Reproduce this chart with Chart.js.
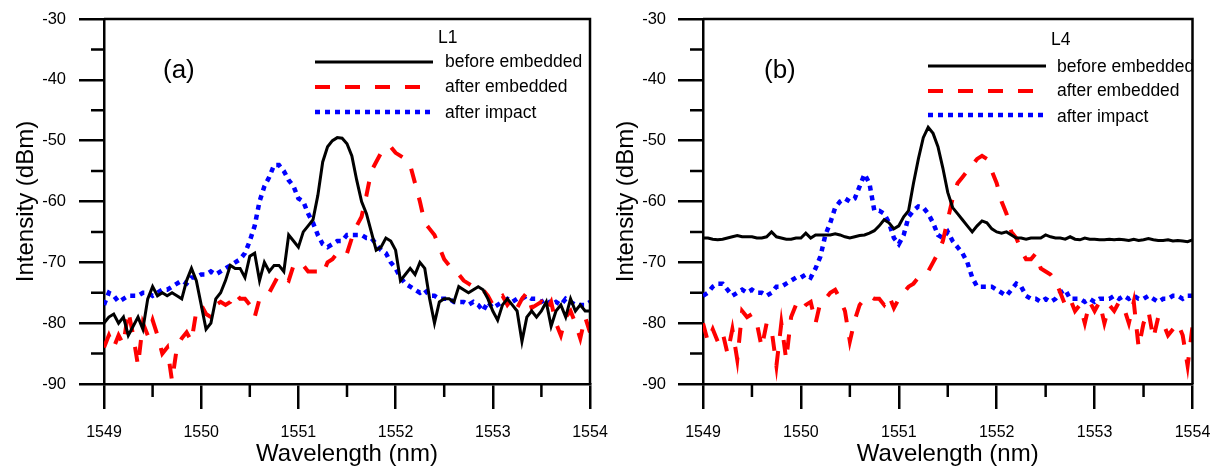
<!DOCTYPE html>
<html>
<head>
<meta charset="utf-8">
<script src="https://cdn.jsdelivr.net/npm/chart.js@4.4.1/dist/chart.umd.min.js"></script>
<style>
body { margin: 0; background: #fff; }
#wrap { position: relative; width: 1220px; height: 466px; }
canvas { position: absolute; top: 0; }
</style>
</head>
<body>
<div id="wrap">
<canvas id="panelA" width="610" height="466" style="left:0"></canvas>
<canvas id="panelB" width="610" height="466" style="left:610px"></canvas>
</div>
<script>
// wavelength grid shared by both panels (nm)
const wavelength = [
    1549.00, 1549.05, 1549.10, 1549.15, 1549.20, 1549.25, 1549.30, 1549.35, 1549.40, 1549.45,
    1549.50, 1549.55, 1549.60, 1549.65, 1549.70, 1549.75, 1549.80, 1549.85, 1549.90, 1549.95,
    1550.00, 1550.05, 1550.10, 1550.15, 1550.20, 1550.25, 1550.30, 1550.35, 1550.40, 1550.45,
    1550.50, 1550.55, 1550.60, 1550.65, 1550.70, 1550.75, 1550.80, 1550.85, 1550.90, 1550.95,
    1551.00, 1551.05, 1551.10, 1551.15, 1551.20, 1551.25, 1551.30, 1551.35, 1551.40, 1551.45,
    1551.50, 1551.55, 1551.60, 1551.65, 1551.70, 1551.75, 1551.80, 1551.85, 1551.90, 1551.95,
    1552.00, 1552.05, 1552.10, 1552.15, 1552.20, 1552.25, 1552.30, 1552.35, 1552.40, 1552.45,
    1552.50, 1552.55, 1552.60, 1552.65, 1552.70, 1552.75, 1552.80, 1552.85, 1552.90, 1552.95,
    1553.00, 1553.05, 1553.10, 1553.15, 1553.20, 1553.25, 1553.30, 1553.35, 1553.40, 1553.45,
    1553.50, 1553.55, 1553.60, 1553.65, 1553.70, 1553.75, 1553.80, 1553.85, 1553.90, 1553.95,
    1554.00
]

const seriesNames = ['before embedded', 'after embedded', 'after impact']

// panel (a), L1 (dBm)
const aBefore = [
    -80, -79, -78.5, -80, -79, -82, -80.5, -79, -81, -76,
    -74, -75.5, -75, -75.5, -75, -75.5, -76, -73, -71, -73,
    -77, -81, -80, -76, -75, -73, -70.5, -71, -71, -72.5,
    -69, -68.5, -73, -70, -71.5, -70.5, -70.5, -71.5, -65.5, -66.5,
    -67.5, -65, -64, -63, -59, -53.5, -51, -50, -49.5, -49.6,
    -50.5, -52.5, -56.5, -60, -62, -65, -68, -67.5, -66, -66.5,
    -68, -73, -72, -71, -72, -70, -71, -76, -80, -76.5,
    -76, -76, -76.5, -74, -74.5, -75, -74.5, -74, -74.5, -76,
    -78, -79.5, -77, -76, -77, -78, -83, -79, -78, -79,
    -78, -76.5, -80.5, -78, -77, -79, -76, -78, -77, -78,
    -78
]
const aAfterEmb = [
    -84, -82, -84, -82, -83.5, -78, -82, -87, -80, -82,
    -79.5, -82, -85, -84, -89.5, -84, -82.5, -81.5, -83, -78,
    -77, -78.5, -79, -77, -76.5, -77, -76.5, -75, -76, -76,
    -77, -79, -76, -75.5, -75, -73.5, -72, -72.5, -73, -70.5,
    -70, -70.5, -71.5, -71.5, -71.5, -72, -70, -69.5, -68.5, -68,
    -68.5, -66, -64, -62.5, -59, -55, -53.5, -52, -51, -51,
    -52, -52.5, -53, -54, -57, -60, -63.5, -64.5, -65.5, -67.5,
    -69.5, -70.5, -71.5, -72, -73, -73.5, -74, -74, -74.5, -75.5,
    -77, -76, -75.5, -77, -76, -77.5, -76, -75, -77.5, -77,
    -76.5, -78, -76.5, -80, -82, -79, -78, -80, -82.5, -79,
    -81.5
]
const aAfterImpact = [
    -77, -75, -75.5, -76.5, -76, -75.5, -75.5, -75.5, -75, -75,
    -75.5, -75, -74.5, -74.5, -74, -73.5, -73, -73.5, -72.5, -72.5,
    -72, -72, -71.5, -72, -71.5, -71, -70.5, -70, -69.5, -68.5,
    -66.5, -64, -60, -57.5, -56, -54, -54, -55, -56.5, -57.5,
    -59.5, -60, -62, -63.5, -65.5, -67, -67.5, -67, -66.5, -66.5,
    -65.5, -65.5, -65.5, -65.5, -66, -66, -67, -68, -68.5, -70,
    -71, -72.5, -73.5, -74, -74.5, -75, -74.5, -75.5, -75.5, -76,
    -76, -76, -76.5, -76.5, -76.5, -77, -76.5, -77, -78, -76.5,
    -77.5, -77, -76.5, -76, -76.5, -76, -76, -75.5, -76, -76,
    -76.5, -76, -77, -76.5, -77, -76, -76.5, -77, -77, -77,
    -76.5
]

// panel (b), L4 (dBm)
const bBefore = [
    -66, -66, -66.2, -66.3, -66.2, -66, -65.8, -65.6, -65.8, -65.8,
    -65.8, -66, -66, -65.8, -65, -65.8, -66, -66.2, -66.2, -66,
    -66, -65.2, -66, -65.5, -65.5, -65.5, -65.5, -65.3, -65.5, -65.8,
    -66, -65.8, -65.6, -65.5, -65.2, -64.8, -64, -63, -63.5, -64.5,
    -64, -62.5, -61.5, -57, -53, -49.5, -47.8, -48.8, -51, -54.5,
    -58.5, -61, -62, -63, -64, -65, -64, -63.2, -63.5, -64.5,
    -65, -65.2, -65, -65.5, -66, -66, -66.2, -66, -66, -66,
    -65.5, -65.8, -66, -66, -66.2, -65.8, -66.2, -66.3, -66, -66.2,
    -66.2, -66.3, -66.3, -66.2, -66.3, -66.2, -66.3, -66.4, -66.2, -66.4,
    -66.3, -66.1, -66.3, -66.4, -66.4, -66.3, -66.5, -66.4, -66.5, -66.6,
    -66.3
]
const bAfterEmb = [
    -80, -83, -81, -83, -81.5, -85, -81, -86, -78, -79,
    -78.5, -80, -84, -80, -81, -87, -80, -86, -79, -77,
    -78, -77, -76.5, -80, -76.5, -76, -75, -74.5, -76, -78,
    -83, -79.5, -77, -76, -75.5, -76, -76, -77, -75.5, -77.5,
    -76, -75, -74, -73.5, -72.5, -72, -71.5, -70, -68.5, -66.5,
    -63, -59.5, -57, -56, -55, -54, -53, -52.5, -53, -55,
    -57, -60, -62, -65, -66, -68, -69.5, -69.5, -68.5, -71,
    -71.5, -72, -73, -75, -77, -76, -78, -77, -80, -76.5,
    -78, -76.5, -80, -77, -78, -76.5, -77.5, -80, -76.5, -84,
    -80, -78, -82.5, -79, -80, -82, -81, -80, -82, -87,
    -80.5
]
const bAfterImpact = [
    -75.5, -75, -74, -73.5, -73.5, -74.5, -75.5, -75, -74.5, -75,
    -74.5, -75, -75, -75.5, -75, -74, -74, -73.5, -73, -72.5,
    -72.5, -72, -72.5, -71, -69, -65.5, -63.5, -61, -60, -59.5,
    -60, -59.5, -57.5, -55.5, -57, -61.5, -61.5, -62, -63.5, -66,
    -67, -65.5, -62.5, -61.5, -60.8, -61, -62, -63.5, -65.5, -66,
    -65, -66.5, -67.5, -68.5, -70, -72.5, -74, -74, -74, -74,
    -74.5, -75, -75.5, -74.5, -73.5, -74, -75.5, -76, -76, -76.5,
    -76, -76.5, -76, -75, -74.5, -76, -76, -76, -76.5, -76,
    -76.5, -76, -76, -76, -75.5, -76, -75.5, -76, -75.5, -76,
    -76, -75.5, -76, -76.5, -76, -76, -75.5, -75.5, -76, -75.5,
    -75.5
]

const xMajor = [1549, 1550, 1551, 1552, 1553, 1554]
const xMinor = [1549.5, 1550.5, 1551.5, 1552.5, 1553.5]
const yMinor = [-35, -45, -55, -65, -75, -85]

const FONT = "'Liberation Sans', Arial, sans-serif"
Chart.defaults.font.family = FONT
Chart.defaults.color = '#000'

/**
 * minor ticks, top/right frame, panel tag and the in-plot legend
 */
const panelDeco = {
    id: 'panelDeco',
    afterDraw(chart, args, opts) {
        const ctx = chart.ctx
        const {left, right, top, bottom} = chart.chartArea
        const xs = chart.scales.x
        const ys = chart.scales.y
        ctx.save()

        // legend
        ctx.font = `17.5px ${FONT}`
        ctx.fillStyle = '#000'
        ctx.textBaseline = 'middle'
        ctx.textAlign = 'left'
        ctx.fillText(opts.tag, opts.tagX, opts.tagY)
        chart.data.datasets.forEach((ds, i) => {
            ctx.save()
            ctx.strokeStyle = ds.borderColor
            ctx.lineWidth = ds.borderWidth
            ctx.setLineDash(ds.borderDash || [])
            ctx.lineCap = ds.borderCapStyle || 'butt'
            ctx.beginPath()
            ctx.moveTo(opts.lineX1, opts.rows[i])
            ctx.lineTo(opts.lineX2, opts.rows[i])
            ctx.stroke()
            ctx.restore()
            ctx.fillText(ds.label, opts.textX, opts.textRows[i])
        })

        ctx.font = `26px ${FONT}`
        ctx.fillText(opts.panel, opts.panelX, opts.panelY)

        // frame + minor ticks
        ctx.strokeStyle = '#000'
        ctx.lineWidth = 2.5
        ctx.setLineDash([])
        ctx.beginPath()
        for (const v of xMinor) {
            const px = xs.getPixelForValue(v)
            ctx.moveTo(px, bottom)
            ctx.lineTo(px, bottom + 13)
        }
        for (const v of yMinor) {
            const py = ys.getPixelForValue(v)
            ctx.moveTo(left, py)
            ctx.lineTo(left - 13, py)
        }
        ctx.moveTo(left, top)
        ctx.lineTo(right, top)
        ctx.lineTo(right, bottom)
        ctx.stroke()
        ctx.restore()
    }
}

function makeDatasets(before, afterEmb, afterImpact) {
    const pts = arr => wavelength.map((w, i) => ({x: w, y: arr[i]}))
    return [
        {label: seriesNames[0], data: pts(before), borderColor: '#000', borderWidth: 3},
        {label: seriesNames[1], data: pts(afterEmb), borderColor: '#ff0000', borderWidth: 4, borderDash: [15, 15]},
        {label: seriesNames[2], data: pts(afterImpact), borderColor: '#0000ff', borderWidth: 4.5, borderDash: [5, 5]}
    ]
}

/**
 * @param {HTMLCanvasElement} canvas
 * @param {any[]} datasets
 * @param {any} layout sizes of this panel
 * @param {any} deco legend / tag settings
 */
function displaySpectrum(canvas, datasets, layout, deco) {
    const ctx = canvas.getContext('2d')
    const tickGrid = {
        drawOnChartArea: false,
        drawTicks: true,
        tickLength: 25,
        tickWidth: 2.5,
        tickColor: '#000',
        color: '#000',
        lineWidth: 2.5
    }
    return new Chart(ctx, {
        type: 'line',
        data: {datasets},
        plugins: [panelDeco],
        options: {
            responsive: false,
            animation: false,
            devicePixelRatio: 1,
            layout: {padding: {top: 19, right: layout.right, left: 0, bottom: 0}},
            elements: {
                point: {radius: 0},
                line: {tension: 0, fill: false}
            },
            plugins: {
                legend: {display: false},
                tooltip: {enabled: false},
                panelDeco: deco
            },
            scales: {
                x: {
                    type: 'linear',
                    min: 1549,
                    max: 1554,
                    afterFit: s => {
                        s.height = 82
                        s.paddingLeft = 0
                        s.paddingRight = 0
                    },
                    afterBuildTicks: s => { s.ticks = xMajor.map(v => ({value: v})) },
                    border: {display: true, color: '#000', width: 2.5},
                    grid: tickGrid,
                    ticks: {
                        padding: 14,
                        maxRotation: 0,
                        font: {size: 16},
                        color: '#000',
                        callback: v => String(v)
                    },
                    title: {
                        display: true,
                        text: 'Wavelength (nm)',
                        font: {size: 24},
                        color: '#000',
                        padding: {top: 0, bottom: -3}
                    }
                },
                y: {
                    min: -90,
                    max: -30,
                    afterFit: s => {
                        s.width = layout.yWidth
                        s.paddingTop = 0
                        s.paddingBottom = 0
                    },
                    border: {display: true, color: '#000', width: 2.5},
                    grid: tickGrid,
                    ticks: {
                        stepSize: 10,
                        padding: layout.yPad,
                        font: {size: 16.5},
                        color: '#000',
                        callback: v => String(v)
                    },
                    title: {
                        display: true,
                        text: 'Intensity (dBm)',
                        font: {size: 24},
                        color: '#000',
                        padding: {top: layout.yTitlePad, bottom: 0}
                    }
                }
            }
        }
    })
}

displaySpectrum(
    document.getElementById('panelA'),
    makeDatasets(aBefore, aAfterEmb, aAfterImpact),
    {right: 20, yWidth: 104, yPad: 13, yTitlePad: 11.6},
    {
        panel: '(a)', panelX: 163, panelY: 71,
        tag: 'L1', tagX: 438, tagY: 38,
        lineX1: 315, lineX2: 433, rows: [62, 87, 112],
        textX: 445, textRows: [62, 87, 113]
    }
)

displaySpectrum(
    document.getElementById('panelB'),
    makeDatasets(bBefore, bAfterEmb, bAfterImpact),
    {right: 27.5, yWidth: 93, yPad: 12, yTitlePad: 1.6},
    {
        panel: '(b)', panelX: 154, panelY: 71,
        tag: 'L4', tagX: 441, tagY: 40,
        lineX1: 318, lineX2: 436, rows: [66, 91, 115],
        textX: 447, textRows: [67, 91, 117]
    }
)
</script>
</body>
</html>
